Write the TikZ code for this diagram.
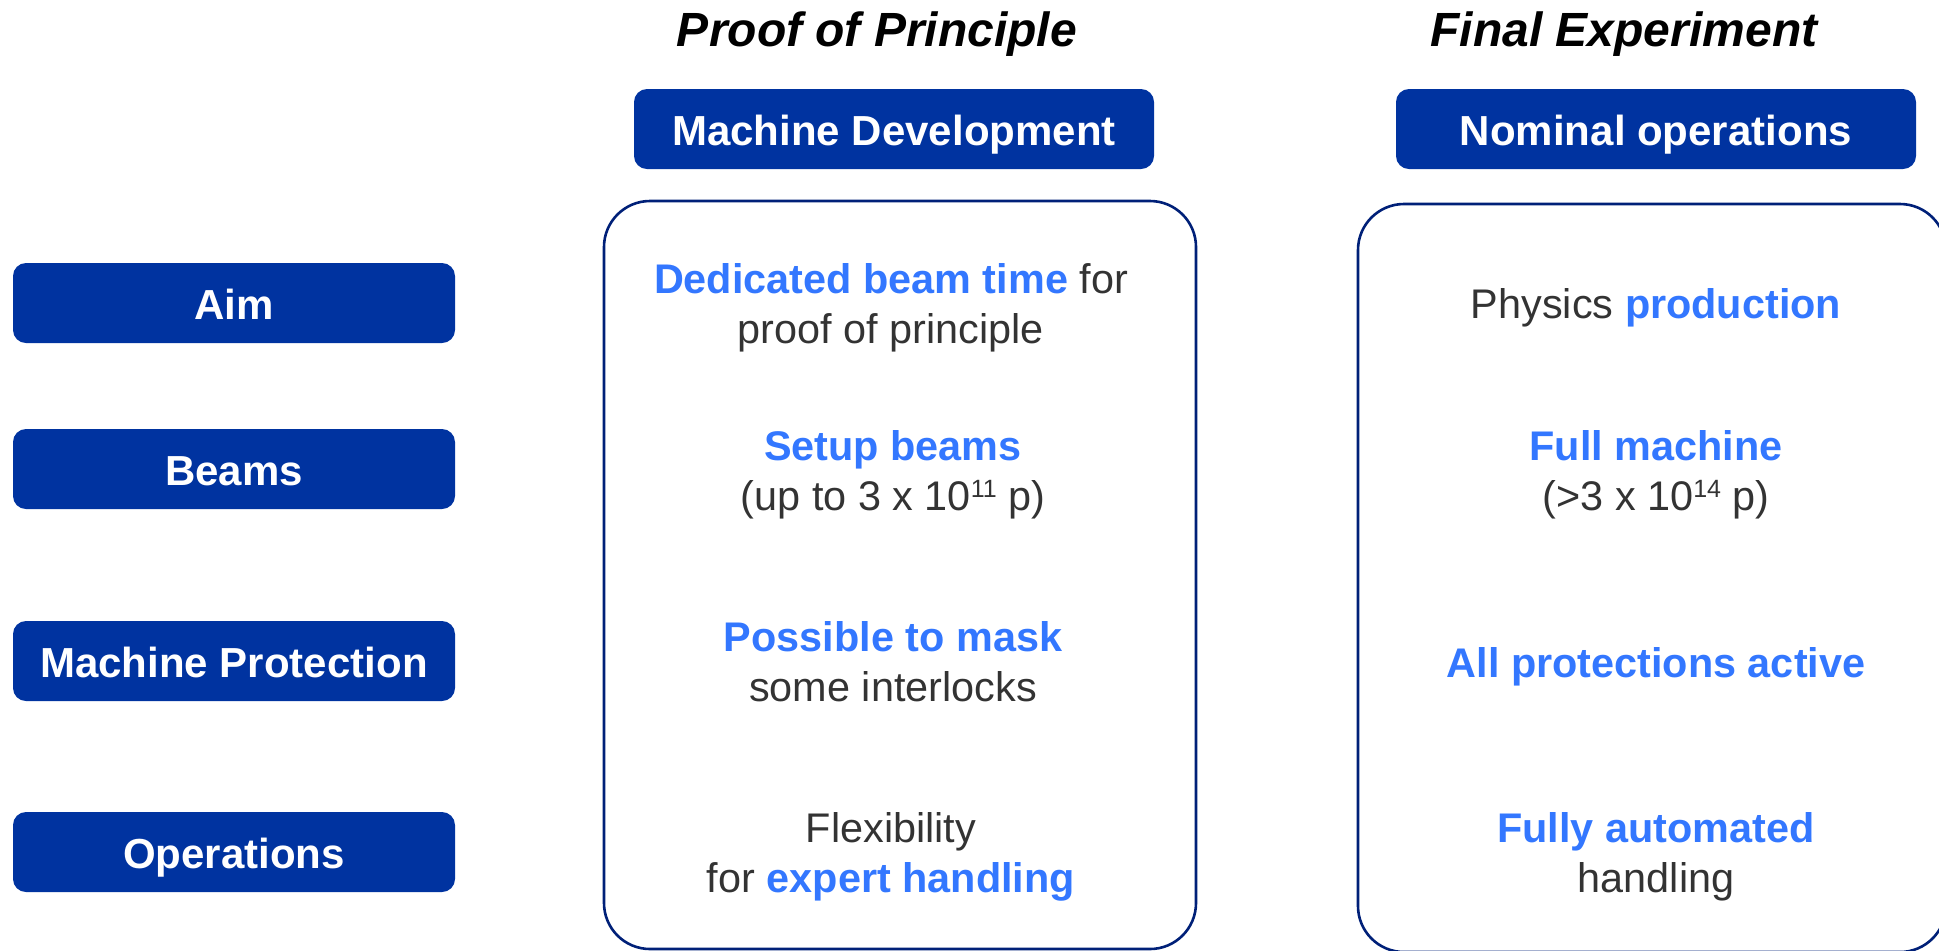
\documentclass[tikz,border=0pt]{standalone}
\usepackage{fontspec}
\setmainfont{Liberation Sans}
\definecolor{cernblue}{RGB}{0,51,160}
\definecolor{hiblue}{RGB}{51,119,255}
\definecolor{darktext}{RGB}{51,51,51}
\definecolor{navy}{RGB}{0,32,120}
\newcommand{\hilite}[1]{{\bfseries\color{hiblue}#1}}
\newcommand{\expo}[1]{\raisebox{6.5pt}{\fontsize{12.5}{12.5}\selectfont#1}}
\tikzstyle{rowbox}=[rectangle,inner sep=0pt,rounded corners=6.5pt,fill=cernblue,text=white,font=\bfseries\fontsize{21}{25}\selectfont,minimum width=221pt,minimum height=40pt,text height=16.5pt,text depth=0pt]
\tikzstyle{headbox}=[rowbox,minimum width=260pt]
\tikzstyle{panel}=[rectangle,inner sep=0pt,rounded corners=23pt,draw=navy,line width=1.3pt,minimum height=374pt]
\tikzstyle{cell}=[align=center,text=darktext,font=\fontsize{20.7}{25}\selectfont]
\tikzstyle{title}=[anchor=base,font=\bfseries\itshape\fontsize{24}{28}\selectfont]

\begin{document}
\begin{tikzpicture}[x=0.5pt,y=-0.5pt]
\useasboundingbox (0,0) rectangle (1939,950);

% column titles
\node (pop) [title] at (877,46) {Proof of Principle};
\node (fin) [title] at (1624,46) {Final Experiment};
\node (md) [headbox] at (894,129) {Machine Development};
\node (nom) [headbox] at (1656,129) {Nominal operations};

% panels
\node (left) [panel,minimum width=296pt] at (900,575) {};
\node (right) [panel,minimum width=294pt] at (1652,578) {};

% row labels
\node (aim) [rowbox] at (234,303) {Aim};
\node (beams) [rowbox] at (234,469) {Beams};
\node (mp) [rowbox] at (234,661) {Machine Protection};
\node (ops) [rowbox] at (234,852) {Operations};

% proof of principle
\node (aimpp) [cell] at (891,308) {\hilite{Dedicated beam time} for\\proof of principle};
\node (beampp) [cell] at (893,475) {\hilite{Setup beams}\\(up to 3 x 10\expo{11} p)};
\node (mppp) [cell] at (893,662) {\hilite{Possible to mask}\\some interlocks};
\node (opspp) [cell] at (891,857) {Flexibility\\for \hilite{expert handling}};

% final experiment
\node (aimfe) [cell] at (1656,308) {Physics \hilite{production}};
\node (beamfe) [cell] at (1656,475) {\hilite{Full machine}\\(>3 x 10\expo{14} p)};
\node (mpfe) [cell] at (1656,667) {\hilite{All protections active}};
\node (opsfe) [cell] at (1656,857) {\hilite{Fully automated}\\handling};
\end{tikzpicture}
\end{document}
